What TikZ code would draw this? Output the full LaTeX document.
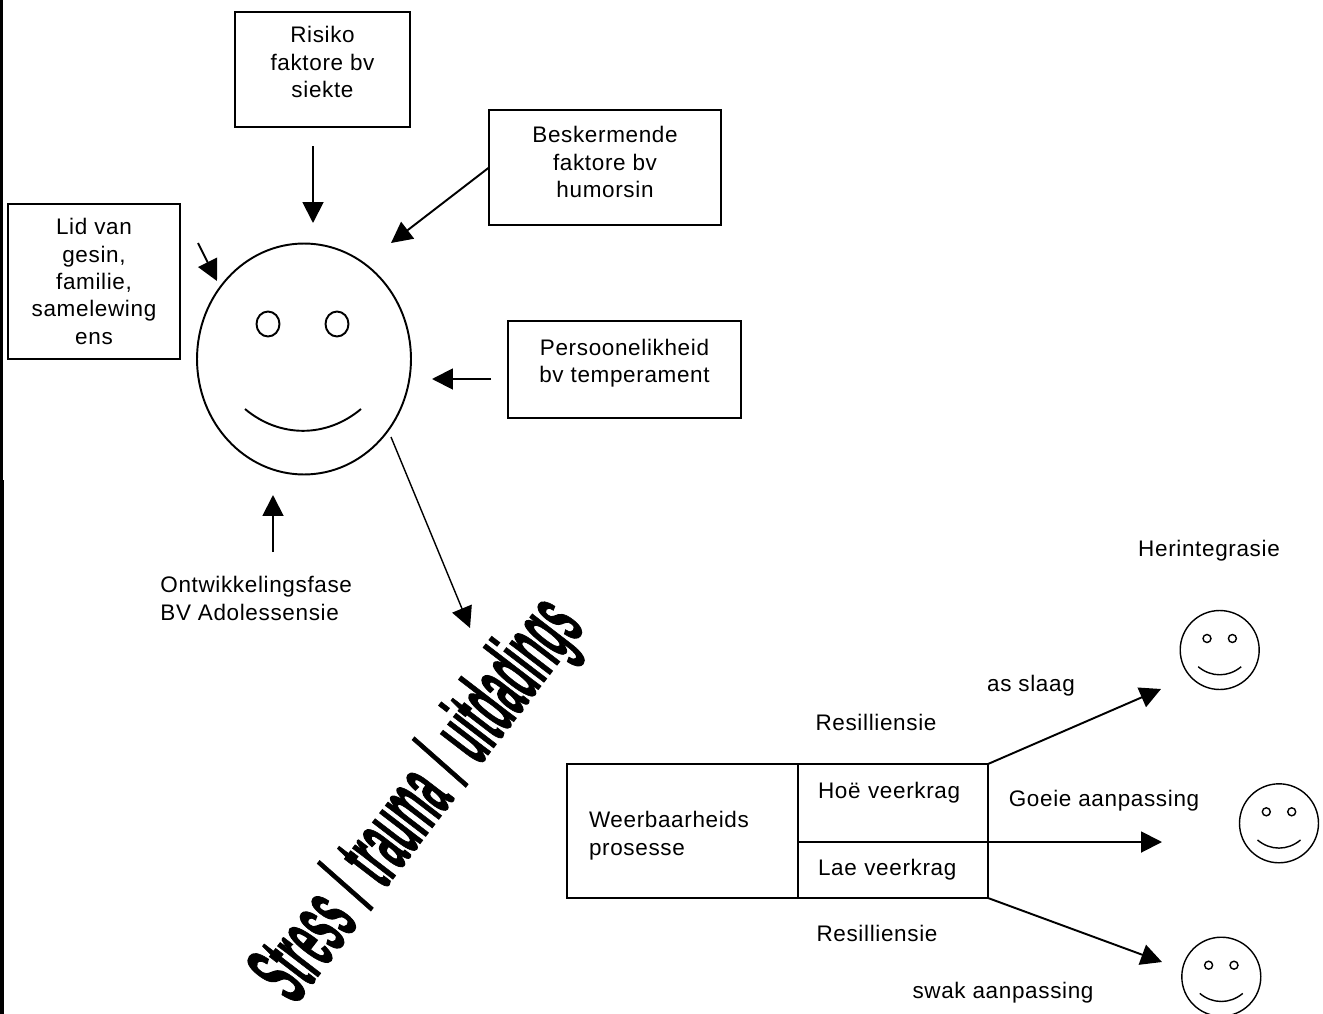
\documentclass[tikz,border=0pt]{standalone}
\usepackage{fontspec}
\setmainfont[LetterSpace=2.9]{Liberation Sans}
\newfontfamily\stressfont[FakeBold=1.5,WordSpace=1.6]{Liberation Sans}
\usepackage{tikz}
\usetikzlibrary{shapes.geometric,arrows.meta}
\tikzset{box/.style={rectangle,draw,line width=1.1pt,inner sep=0pt,outer sep=0pt,align=center,font=\fontsize{12.8}{15.6}\selectfont}}
\tikzset{cell/.style={rectangle,draw,line width=1.1pt,inner ysep=0pt,outer sep=0pt,align=left,font=\fontsize{12.8}{15.6}\selectfont}}
\tikzset{word/.style={inner sep=0pt,align=left,font=\fontsize{12.8}{15.6}\selectfont}}
\tikzset{edge/.style={line width=1.1pt,-{Triangle[length=0.42cm,width=0.42cm]}}}
\tikzset{face/.style={ellipse,draw,line width=1.1pt,inner sep=0pt,minimum width=4.28cm,minimum height=4.62cm}}
\tikzset{eye/.style={ellipse,draw,line width=1.1pt,inner sep=0pt,minimum width=0.46cm,minimum height=0.5cm}}
\tikzset{smallface/.style={circle,draw,line width=0.8pt,inner sep=0pt,minimum size=1.58cm}}
\tikzset{smalleye/.style={circle,draw,line width=0.8pt,inner sep=0pt,minimum size=0.16cm}}
\tikzset{mouth/.style={line width=1.1pt,out=-40,in=220}}

\begin{document}
\begin{tikzpicture}[x=0.02cm,y=-0.02cm]
    \useasboundingbox (0,0) rectangle (1323,1014);
    % page edge
    \coordinate (edgea) at (1.5,0);
    \coordinate (edgeb) at (1.5,480);
    \coordinate (edgec) at (1.5,1014);
    \draw[line width=1.2pt] (edgea) -- (edgeb);
    \draw[line width=2.6pt] (edgeb) -- (edgec);
    % boxes round the person
    \node[box,minimum width=3.5cm,minimum height=2.3cm] (risiko) at (322.5,69.5) {Risiko\\faktore bv\\siekte\\[-7.1pt]\mbox{}};
    \node[box,minimum width=4.64cm,minimum height=2.3cm] (beskerm) at (605,167.5) {Beskermende\\faktore bv\\humorsin\\[-9.4pt]\mbox{}};
    \node[box,minimum width=3.44cm,minimum height=3.1cm] (lid) at (94,281.5) {Lid van\\gesin,\\familie,\\samelewing\\ens};
    \node[box,minimum width=4.66cm,minimum height=1.94cm] (persoon) at (624.5,369.5) {Persoonelikheid\\bv temperament\\[-6pt]\mbox{}};
    \node[word,anchor=west] (fase) at (160,598.5) {Ontwikkelingsfase\\BV Adolessensie};
    % the person
    \node[face] (gesig) at (304,359) {};
    \node[eye] (oogl) at (268,324) {};
    \node[eye] (oogr) at (337,324) {};
    \coordinate (monda) at (245,409);
    \coordinate (mondb) at (361,409);
    \draw[mouth] (monda) to (mondb);
    % arrows to the person
    \coordinate (pa) at (313,146);
    \coordinate (pb) at (313,223);
    \coordinate (qb) at (391,243);
    \coordinate (ra) at (198,243);
    \coordinate (rb) at (217,281);
    \coordinate (sa) at (491,379);
    \coordinate (sb) at (432,379);
    \coordinate (ta) at (273,552);
    \coordinate (tb) at (273,495);
    \coordinate (ua) at (391,437);
    \coordinate (ub) at (470,628);
    \draw[edge] (pa) -- (pb);
    \draw[edge] (beskerm.west) -- (qb);
    \draw[edge] (ra) -- (rb);
    \draw[edge] (sa) -- (sb);
    \draw[edge] (ta) -- (tb);
    \draw[edge,line width=0.8pt] (ua) -- (ub);
    \node[inner sep=0pt,rotate=52.5,xscale=0.365,font=\fontsize{54}{56}\stressfont\bfseries] (stress) at (421,802) {Stress / trauma / uitdadings};
    % the table
    \node[cell,text width=3.74cm,inner xsep=0.44cm,minimum height=2.68cm] (weer) at (682.5,831) {\mbox{}\\[-1.1pt]Weerbaarheids\\prosesse};
    \node[cell,text width=3cm,inner xsep=0.4cm,minimum height=1.56cm] (hoe) at (893,803) {Hoë veerkrag\\[-0.9pt]\mbox{}};
    \node[cell,text width=3cm,inner xsep=0.4cm,minimum height=1.12cm] (lae) at (893,870) {Lae veerkrag};
    \coordinate (ka) at (1161,689);
    \coordinate (kb) at (1162,842);
    \coordinate (kc) at (1162,962);
    \draw[edge] (hoe.north east) -- (ka);
    \draw[edge] (lae.north east) -- (kb);
    \draw[edge] (lae.south east) -- (kc);
    \node[word] (res1) at (876,722) {Resilliensie};
    \node[word] (res2) at (877,933) {Resilliensie};
    \node[word] (slaag) at (1031,686) {as slaag};
    \node[word] (goeie) at (1104,801) {Goeie aanpassing};
    \node[word] (swak) at (1003,993) {swak aanpassing};
    \node[word] (herint) at (1209,551) {Herintegrasie};
    % small faces
    \foreach \name/\x/\y in {bo/1219.7/650,mid/1279/823.3,on/1221.3/976.7}{
      \begin{scope}[shift={(\x,\y)}]
        \node[smallface] (\name) at (0,0) {};
        \node[smalleye] (\name l) at (-12.7,-11.5) {};
        \node[smalleye] (\name r) at (12.7,-11.5) {};
        \coordinate (\name a) at (-21.5,16.7);
        \coordinate (\name b) at (21.5,16.7);
        \draw[mouth,line width=0.8pt] (\name a) to (\name b);
      \end{scope}
    }
  \end{tikzpicture}
\end{document}
